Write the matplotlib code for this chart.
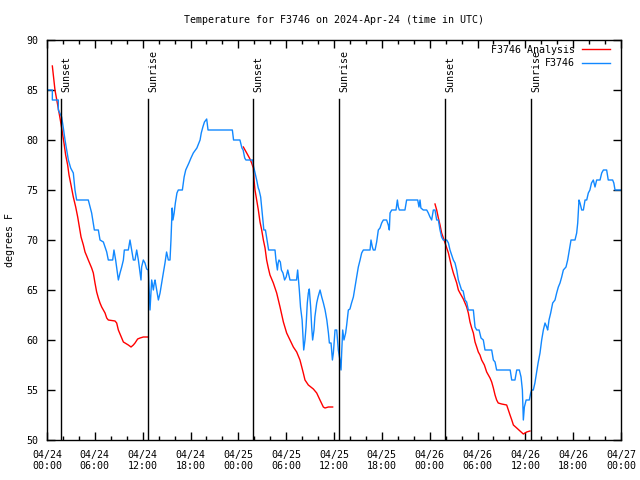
import pandas as pd
import matplotlib
matplotlib.use('Agg')
import matplotlib.pyplot as plt
import matplotlib.dates as mdates

plt.rcParams['font.family'] = ['DejaVu Sans Mono']
plt.rcParams['font.size'] = 7.2

start = pd.Timestamp('2024-04-24 00:00')

# station obs: hours since 04/24 00:00 UTC, temp in F
obs_hours = [0.0, 0.67, 0.67, 1.42, 1.42, 1.84, 2.05, 2.26, 2.47, 2.68, 2.97, 3.3, 3.51, 3.72,
             5.18, 5.6, 5.94, 6.44, 6.65, 7.07, 7.28, 7.49, 7.69, 8.24, 8.4, 8.61, 8.86, 8.95,
             9.16, 9.37, 9.58, 9.7, 10.2, 10.41, 10.62, 10.83, 11.04, 11.25, 11.46, 11.67, 11.79,
             11.87, 12.08, 12.29, 12.5, 12.71, 12.92, 13.13, 13.34, 13.46, 13.55, 13.76, 13.97,
             14.18, 14.38, 14.59, 14.8, 15.0, 15.22, 15.43, 15.55, 15.65, 15.7, 15.8, 15.95,
             16.1, 16.3, 16.47, 16.98, 17.1, 17.2, 17.4, 17.8, 18.06, 18.35, 18.8, 19.2, 19.35,
             19.55, 19.75, 20.03, 20.2, 23.25, 23.4, 24.2, 24.45, 24.6, 24.8, 24.95, 25.8, 25.9,
             26.1, 26.3, 26.5, 26.6, 26.8, 27.0, 27.2, 27.4, 27.6, 27.8, 28.6, 28.72, 28.9,
             28.99, 29.1, 29.27, 29.4, 29.6, 29.8, 30.0, 30.2, 30.48, 31.3, 31.44, 31.65, 31.8,
             32.0, 32.2, 32.36, 32.49, 32.65, 32.78, 32.9, 33.07, 33.2, 33.32, 33.49, 33.6,
             33.83, 34.0, 34.25, 34.46, 34.67, 34.88, 35.1, 35.3, 35.42, 35.63, 35.8, 35.92,
             36.13, 36.34, 36.54, 36.75, 36.88, 36.96, 37.09, 37.25, 37.46, 37.59, 37.8, 38.0,
             38.2, 38.43, 38.63, 38.84, 39.05, 39.27, 39.47, 39.68, 40.52, 40.64, 40.81, 40.93,
             41.15, 41.35, 41.56, 41.77, 41.98, 42.19, 42.6, 42.81, 42.94, 43.03, 43.24, 43.78,
             43.95, 44.07, 44.2, 44.9, 45.11, 46.5, 46.66, 46.79, 46.9, 47.2, 47.63, 47.83,
             48.04, 48.25, 48.46, 48.67, 48.88, 49.09, 49.3, 49.5, 49.7, 50.14, 50.35, 50.55,
             50.97, 51.18, 51.39, 51.6, 52.0, 52.2, 52.43, 52.64, 52.85, 53.48, 53.69, 53.9,
             54.2, 54.44, 54.73, 54.94, 55.78, 55.99, 56.2, 56.4, 58.1, 58.29, 58.7, 58.92,
             59.25, 59.46, 59.63, 59.75, 59.88, 60.1, 60.5, 60.67, 60.8, 61.0, 61.2, 61.4,
             61.6, 61.84, 62.05, 62.26, 62.47, 62.68, 62.8, 62.97, 63.18, 63.43, 63.72, 63.93,
             64.14, 64.35, 64.56, 64.77, 65.1, 65.31, 65.52, 65.73, 66.23, 66.44, 66.57, 66.73,
             66.86, 67.07, 67.28, 67.49, 67.7, 67.9, 68.1, 68.3, 68.53, 68.74, 68.95, 69.37,
             69.58, 69.79, 70.2, 70.4, 70.95, 71.1, 71.25, 72.0]
obs_temps = [85, 85, 84, 84, 83, 82.3, 81.2, 80, 79, 78, 77.2, 76.7, 75, 74,
             74, 72.7, 71, 71, 70, 69.8, 69.3, 68.8, 68, 68, 69, 68, 66.5, 66,
             66.7, 67.3, 68, 69, 69, 70, 69, 68, 68, 69, 68, 66.7, 66,
             67.3, 68, 67.7, 67.1, 67, 63, 66, 65, 65.7, 66, 65, 64,
             64.7, 65.7, 66.7, 67.7, 68.8, 68, 68, 70, 72, 73.2, 72, 72.7,
             73.7, 74.7, 75, 75, 75.7, 76.3, 77, 77.7, 78.2, 78.7, 79.2, 80, 80.7,
             81.3, 81.8, 82.1, 81, 81, 80, 80, 79.2, 79, 78.2, 78, 78, 77.4,
             76.7, 76, 75.2, 75, 74.3, 72.7, 71, 71, 70, 69, 69, 68, 67,
             67.7, 68, 67.8, 67, 66.7, 66, 66.3, 67, 66, 66, 67, 65, 63.3,
             62, 59, 60, 61.3, 63.7, 64.7, 65.1, 63.3, 61.3, 60, 61, 62.3,
             63.7, 64.3, 65, 64.3, 63.7, 63, 62, 60.7, 59.7, 59.7, 58, 58.7,
             61, 61, 59, 58, 57, 58.7, 61, 60, 60.7, 61.5, 63, 63.1,
             63.7, 64.3, 65.3, 66.3, 67.3, 68, 68.7, 69, 69, 70, 69.3, 69,
             69, 69.8, 71, 71.2, 71.7, 72, 72, 71.5, 71, 72.7, 73, 73,
             74, 73.3, 73, 73, 74, 74, 73.3, 74, 73.2, 73, 73, 72.7,
             72.3, 72, 73, 73, 72, 72, 71, 70.3, 70, 70, 69.7, 69,
             68, 67.7, 67, 66, 65, 64.9, 64, 63.8, 63, 63, 61.3, 61,
             61, 60.2, 60, 59, 59, 58, 57.8, 57, 57, 56, 56, 57,
             57, 56.3, 55, 52, 53.3, 54, 54, 54.7, 55, 55, 55.7, 56.7,
             57.7, 58.7, 60, 61, 61.7, 61.3, 61, 62, 62.7, 63.7, 64, 64.7,
             65.3, 65.7, 66.3, 67, 67.3, 68, 69, 70, 70, 70.7, 71.7, 74,
             73.7, 73, 73, 74, 74, 74.7, 75, 75.7, 76, 75.3, 76, 76,
             76.7, 77, 77, 76, 76, 75.7, 75, 75]

# analysis, one piece per night
ana1_hours = [0.67, 1.0, 1.34, 1.63, 1.84, 2.13, 2.34, 2.59, 2.76, 3.01, 3.3, 3.6, 3.85, 4.06,
              4.27, 4.56, 4.77, 4.98, 5.18, 5.6, 5.81, 6.02, 6.23, 6.44, 6.65, 6.86, 7.28, 7.49,
              7.69, 8.53, 8.74, 8.95, 9.37, 9.58, 9.79, 10.2, 10.54, 10.83, 11.04, 11.37, 11.67,
              12.08, 12.71]
ana1_temps = [87.4, 85, 83.5, 82.2, 81.2, 79.7, 78.5, 77.5, 76.5, 75.5, 74.3, 73.3, 72.3, 71.3,
              70.3, 69.5, 68.8, 68.4, 68, 67.2, 66.7, 65.7, 64.8, 64.2, 63.7, 63.3, 62.7, 62.2,
              62, 61.9, 61.7, 61, 60.2, 59.8, 59.7, 59.5, 59.3, 59.5, 59.7, 60.1, 60.2,
              60.3, 60.3]
ana2_hours = [24.63, 25.05, 25.46, 25.67, 25.88, 25.97, 26.09, 26.3, 26.51, 26.72, 26.93, 27.14,
              27.35, 27.55, 27.76, 27.97, 28.39, 28.81, 29.23, 29.65, 30.06, 30.48, 30.9, 31.32,
              31.73, 32.15, 32.36, 32.78, 33.41, 33.83, 34.24, 34.66, 34.87, 35.29, 35.83]
ana2_temps = [79.3, 78.7, 78.1, 77.7, 77.2, 76, 75, 74, 73, 71.8, 71, 70,
              69.2, 68, 67.2, 66.5, 65.7, 64.7, 63.3, 61.8, 60.7, 60, 59.3, 58.8,
              58, 56.7, 56, 55.5, 55.1, 54.7, 54, 53.3, 53.2, 53.3, 53.3]
ana3_hours = [48.67, 48.88, 49.09, 49.3, 49.5, 49.72, 49.93, 50.14, 50.35, 50.55, 50.76, 50.97,
              51.18, 51.39, 51.6, 51.8, 52.22, 52.64, 52.85, 53.06, 53.27, 53.48, 53.69, 53.9,
              54.1, 54.31, 54.52, 54.86, 55.15, 55.57, 55.78, 55.99, 56.2, 56.4, 56.6, 57.03,
              57.66, 57.87, 58.08, 58.3, 58.5, 58.92, 59.33, 59.75, 60.17, 60.58]
ana3_temps = [73.6, 73, 72.2, 71.5, 70.7, 70.2, 69.7, 69.2, 68.7, 68, 67.3, 66.7,
              66.2, 65.7, 65, 64.7, 64.1, 63.3, 62.7, 61.8, 61.2, 60.7, 59.8, 59.3,
              58.8, 58.5, 58, 57.5, 56.8, 56.2, 55.8, 55.2, 54.5, 54, 53.7, 53.6,
              53.5, 53, 52.5, 52, 51.5, 51.2, 50.9, 50.6, 50.8, 50.9]

sun_labels = ['Sunset', 'Sunrise', 'Sunset', 'Sunrise', 'Sunset', 'Sunrise']
sun_hours = [1.76, 12.71, 25.88, 36.63, 49.92, 60.71]


def to_time(hours):
    return start + pd.to_timedelta(hours, unit='h')


fig = plt.figure(figsize=(6.4, 4.8), dpi=100)
ax = fig.add_axes([47 / 640, 40 / 480, 574 / 640, 400 / 480])

red = '#ff0000'
blue = '#1188ff'

ax.plot(to_time(ana1_hours), ana1_temps, color=red, lw=1.0, label='F3746 Analysis')
ax.plot(to_time(ana2_hours), ana2_temps, color=red, lw=1.0)
ax.plot(to_time(ana3_hours), ana3_temps, color=red, lw=1.0)
ax.plot(to_time(obs_hours), obs_temps, color=blue, lw=1.0, label='F3746')

for lab, h in zip(sun_labels, sun_hours):
    t = to_time(h)
    ax.plot([t, t], [50, 84.1], color='black', lw=1.0)
    ax.text(t, 84.8, lab, rotation=90, ha='left', va='bottom')

ax.set_xlim(start, start + pd.Timedelta(hours=72))
ax.set_ylim(50, 90)
ax.set_yticks(range(50, 91, 5))

ax.xaxis.set_major_locator(mdates.HourLocator(byhour=[0, 6, 12, 18]))
ax.xaxis.set_minor_locator(mdates.HourLocator(byhour=range(0, 24, 2)))
ax.xaxis.set_major_formatter(mdates.DateFormatter('%m/%d\n%H:%M'))

ax.tick_params(axis='both', which='major', direction='in', length=6, width=1,
               top=True, right=True, labelsize=7.2)
ax.tick_params(axis='x', which='minor', direction='in', length=3, width=1, top=True)
ax.tick_params(axis='x', which='major', pad=7)
ax.tick_params(axis='y', which='major', pad=6)
for s in ax.spines.values():
    s.set_linewidth(1.0)

fig.text(10 / 640, 1 - 240 / 480, 'degrees F', rotation=90, ha='center', va='center')

fig.text(334 / 640, 1 - 20 / 480, 'Temperature for F3746 on 2024-Apr-24 (time in UTC)',
         ha='center', va='center')

leg = ax.legend(loc='upper right', bbox_to_anchor=(1 - 3 / 574, 1 + 3 / 400),
                frameon=False, markerfirst=False, fontsize=7.2,
                handlelength=2.8, borderaxespad=0.4, borderpad=0.4, labelspacing=0.35,
                handletextpad=0.7)

plt.savefig('out.png', dpi=100)
